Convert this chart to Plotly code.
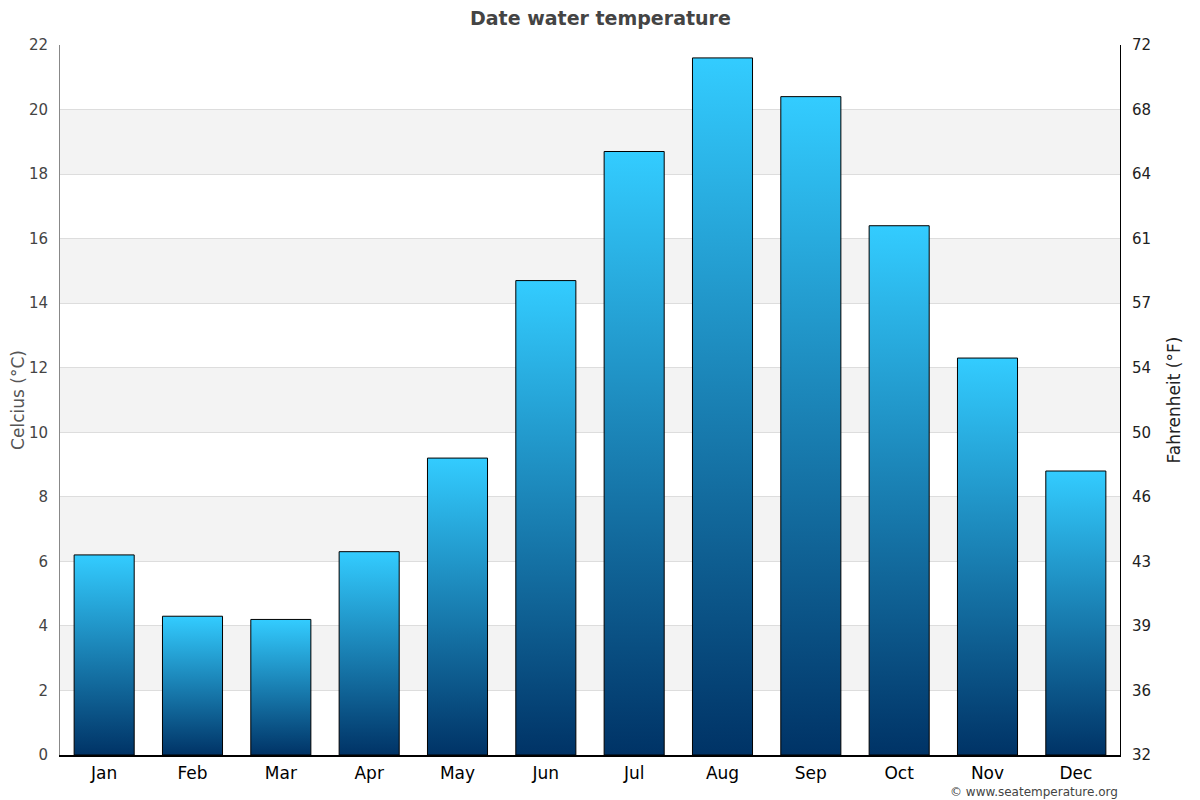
import plotly.graph_objects as go

months = ['Jan', 'Feb', 'Mar', 'Apr', 'May', 'Jun', 'Jul', 'Aug', 'Sep', 'Oct', 'Nov', 'Dec']
celsius = [6.2, 4.3, 4.2, 6.3, 9.2, 14.7, 18.7, 21.6, 20.4, 16.4, 12.3, 8.8]
c_ticks = [0, 2, 4, 6, 8, 10, 12, 14, 16, 18, 20, 22]
f_labels = ['32', '36', '39', '43', '46', '50', '54', '57', '61', '64', '68', '72']

half = 0.34

fig = go.Figure()

# each bar is a filled box so it can carry a vertical gradient
for i, (m, v) in enumerate(zip(months, celsius)):
    fig.add_trace(go.Scatter(
        x=[i - half, i + half, i + half, i - half, i - half],
        y=[0, 0, v, v, 0],
        mode='lines',
        fill='toself',
        fillgradient=dict(type='vertical',
                          colorscale=[[0, '#003366'], [1, '#33ccff']]),
        line=dict(color='black', width=1),
        name=m,
        hoverinfo='skip',
        showlegend=False,
    ))

# invisible trace on the right axis
fig.add_trace(go.Scatter(x=[0], y=[0], yaxis='y2', mode='markers',
                         marker=dict(opacity=0), showlegend=False, hoverinfo='skip'))

# alternating bands
for k in range(1, len(c_ticks) - 1, 2):
    fig.add_shape(type='rect', xref='paper', yref='y', x0=0, x1=1,
                  y0=c_ticks[k], y1=c_ticks[k + 1], fillcolor='#f3f3f3',
                  line_width=0, layer='below')

# page body adds 8px, so the figure is a bit smaller than the window
fig.update_layout(
    width=1192, height=792,
    font=dict(family='DejaVu Sans', size=15, color='#444444'),
    paper_bgcolor='white', plot_bgcolor='white',
    margin=dict(l=52, r=80, t=37, b=45, autoexpand=False),
    title=dict(text='<b>Date water temperature</b>', x=0.497, xanchor='center',
               y=0.987, yanchor='middle', font=dict(size=19, color='#444444')),
    xaxis=dict(range=[-0.5, 11.5], tickvals=list(range(12)), ticktext=months,
               showgrid=False, zeroline=False, showline=True, linecolor='black',
               linewidth=2, ticks='', ticklabelstandoff=2, automargin=False,
               tickfont=dict(size=17, color='black')),
    yaxis=dict(range=[0, 22], tickvals=c_ticks, showgrid=True, gridcolor='#dddddd',
               zeroline=False, showline=True, linecolor='#888888', linewidth=1,
               ticks='', ticklabelstandoff=8, automargin=False,
               tickfont=dict(size=15, color='#444444'),
               title=dict(text='Celcius (°C)', font=dict(size=17, color='#555555'), standoff=12)),
    yaxis2=dict(range=[0, 22], overlaying='y', side='right', tickvals=c_ticks,
                ticktext=f_labels, showgrid=False, zeroline=False, showline=True,
                linecolor='black', linewidth=1, ticks='', ticklabelstandoff=8,
                automargin=False, tickfont=dict(size=15, color='#222222'),
                title=dict(text='Fahrenheit (°F)', font=dict(size=17, color='#222222'), standoff=18)),
    annotations=[dict(text='© www.seatemperature.org', xref='paper', yref='paper',
                      x=1, y=-0.052, xanchor='right', yanchor='middle', showarrow=False,
                      font=dict(size=12, color='#444444'))],
)

fig.write_html('out.html')
